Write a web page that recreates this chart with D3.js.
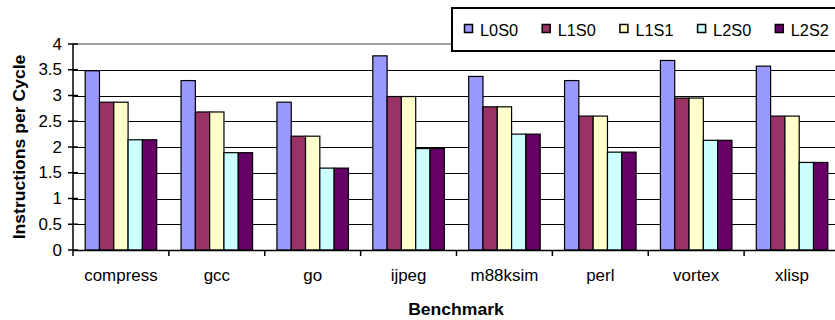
<!DOCTYPE html>
<html>
<head>
<meta charset="utf-8">
<script src="https://cdn.jsdelivr.net/npm/d3@7"></script>
<style>
  html, body { margin: 0; padding: 0; background: #fff; overflow: hidden; }
  text { font-family: "Liberation Sans", Arial, sans-serif; fill: #000; }
</style>
</head>
<body>
<svg id="chart" width="835" height="320"></svg>
<script>
const categories = ["compress", "gcc", "go", "ijpeg", "m88ksim", "perl", "vortex", "xlisp"];
const seriesNames = ["L0S0", "L1S0", "L1S1", "L2S0", "L2S2"];
const L0S0 = [3.48, 3.29, 2.87, 3.77, 3.37, 3.29, 3.68, 3.57];
const L1S0 = [2.87, 2.68, 2.21, 2.98, 2.78, 2.60, 2.95, 2.60];
const L1S1 = [2.87, 2.68, 2.21, 2.98, 2.78, 2.60, 2.95, 2.60];
const L2S0 = [2.14, 1.89, 1.59, 1.97, 2.25, 1.90, 2.13, 1.70];
const L2S2 = [2.14, 1.89, 1.59, 1.97, 2.25, 1.90, 2.13, 1.70];
const seriesValues = [L0S0, L1S0, L1S1, L2S0, L2S2];
const colors = ["#9999FF", "#993366", "#FFFFCC", "#CCFFFF", "#660066"];
const yTicks = [0, 0.5, 1, 1.5, 2, 2.5, 3, 3.5, 4];
const yTickLabels = ["0", "0.5", "1", "1.5", "2", "2.5", "3", "3.5", "4"];

const svg = d3.select("#chart");
const pL = 73, pR = 840, pT = 44, pB = 250;
const SX = 1.06; // horizontal text stretch

const x = d3.scaleBand().domain(categories).range([pL, pR]).paddingInner(0.254).paddingOuter(0.127);
const xs = d3.scaleBand().domain(seriesNames).range([0, x.bandwidth()]);
const y = d3.scaleLinear().domain([0, 4]).range([pB, pT]);

// gridlines
svg.append("g").selectAll("line").data(yTicks.filter(d => d > 0 && d < 4)).join("line")
  .attr("x1", pL).attr("x2", pR)
  .attr("y1", d => Math.round(y(d)) + 0.5).attr("y2", d => Math.round(y(d)) + 0.5)
  .attr("stroke", "#000").attr("stroke-width", 1);

// plot area top border (gray)
svg.append("line").attr("x1", pL).attr("x2", pR)
  .attr("y1", y(4)).attr("y2", y(4)).attr("stroke", "#808080").attr("stroke-width", 1.5);

// bars
const rows = [];
categories.forEach((c, i) => seriesNames.forEach((s, j) => rows.push({c, s, v: seriesValues[j][i], j})));
svg.append("g").selectAll("rect").data(rows).join("rect")
  .attr("x", d => x(d.c) + xs(d.s))
  .attr("y", d => y(d.v))
  .attr("width", xs.bandwidth())
  .attr("height", d => y(0) - y(d.v))
  .attr("fill", d => colors[d.j])
  .attr("stroke", "#000").attr("stroke-width", 1.2);

// x axis
svg.append("line").attr("x1", pL).attr("x2", pR).attr("y1", pB + 0.5).attr("y2", pB + 0.5)
  .attr("stroke", "#000").attr("stroke-width", 1.5);
const step = x.step();
svg.append("g").selectAll("line").data(d3.range(categories.length + 1)).join("line")
  .attr("x1", i => pL + i * step).attr("x2", i => pL + i * step)
  .attr("y1", pB).attr("y2", pB + 6)
  .attr("stroke", "#000").attr("stroke-width", 1.5);
svg.append("g").selectAll("text").data(categories).join("text")
  .attr("transform", d => `translate(${x(d) + x.bandwidth() / 2},281) scale(${SX},1)`)
  .attr("text-anchor", "middle").attr("font-size", 16).text(d => d);

// y axis
svg.append("line").attr("x1", pL).attr("x2", pL).attr("y1", pT).attr("y2", pB)
  .attr("stroke", "#000").attr("stroke-width", 1.5);
svg.append("g").selectAll("line").data(yTicks).join("line")
  .attr("x1", pL - 5).attr("x2", pL + 5)
  .attr("y1", d => y(d)).attr("y2", d => y(d))
  .attr("stroke", "#000").attr("stroke-width", 1.5);
svg.append("g").selectAll("text").data(yTicks).join("text")
  .attr("transform", (d, i) => `translate(62,${y(d) + 5.5}) scale(${SX},1)`)
  .attr("text-anchor", "end").attr("font-size", 16).text((d, i) => yTickLabels[i]);

// axis titles
svg.append("text").attr("transform", `translate(456,315) scale(1.1,1)`)
  .attr("text-anchor", "middle").attr("font-size", 16).attr("font-weight", "bold").text("Benchmark");
svg.append("text").attr("transform", `translate(25,147) rotate(-90) scale(1.1,1)`)
  .attr("text-anchor", "middle").attr("font-size", 16).attr("font-weight", "bold").text("Instructions per Cycle");

// legend
const lg = svg.append("g");
lg.append("rect").attr("x", 452).attr("y", 8).attr("width", 420).attr("height", 43)
  .attr("fill", "#fff").attr("stroke", "#000").attr("stroke-width", 2);
const li = lg.selectAll("g.item").data(seriesNames).join("g").attr("class", "item")
  .attr("transform", (d, i) => `translate(${464 + i * 77.7},0)`);
li.append("rect").attr("x", 0.5).attr("y", 24.5).attr("width", 8).attr("height", 8)
  .attr("fill", (d, i) => colors[i]).attr("stroke", "#000").attr("stroke-width", 1.5);
li.append("text").attr("transform", `translate(16,36) scale(1.02,1)`)
  .attr("font-size", 16).text(d => d);
</script>
</body>
</html>
